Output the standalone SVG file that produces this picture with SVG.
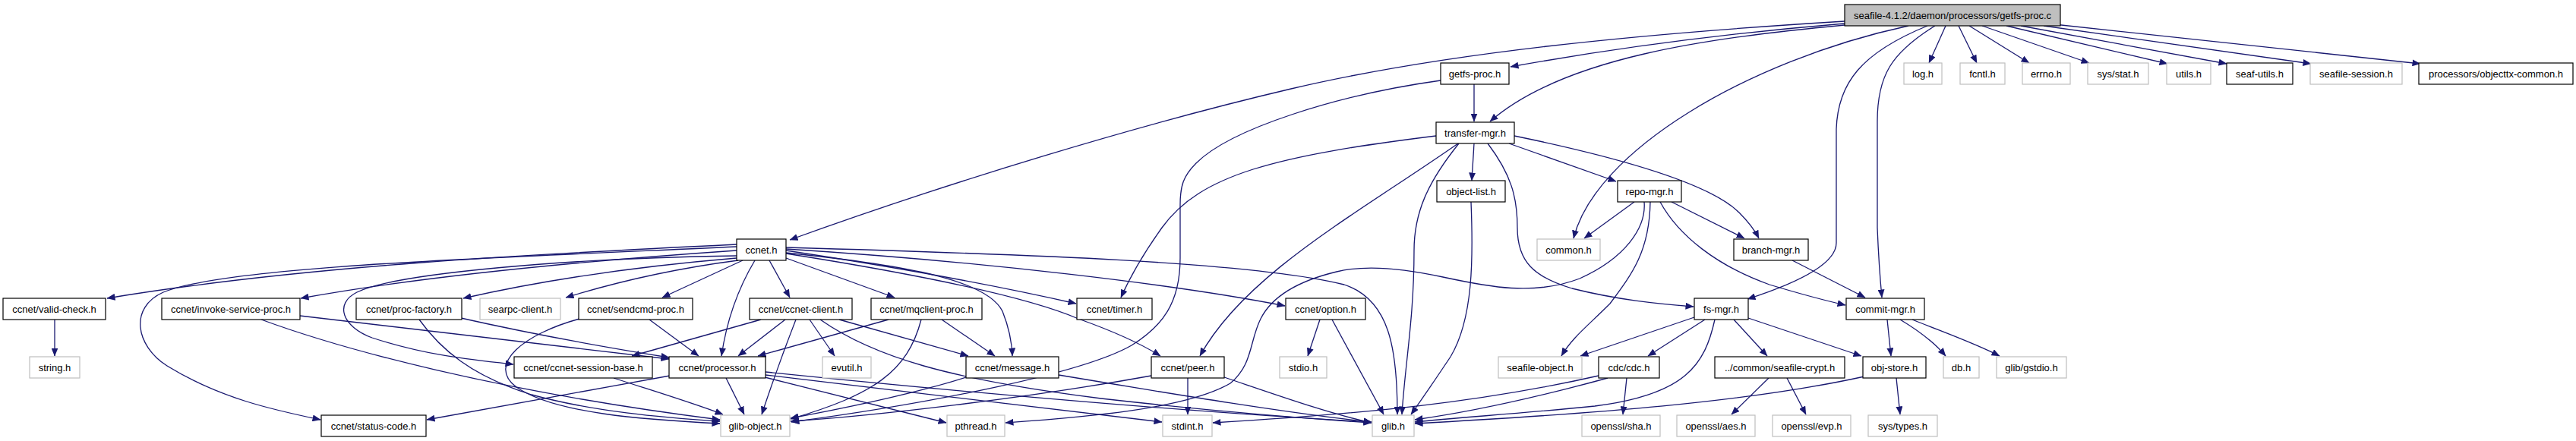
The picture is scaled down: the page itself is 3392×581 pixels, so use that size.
<svg xmlns="http://www.w3.org/2000/svg" width="3392" height="581" viewBox="0 0 3392 581">
<style>
.n rect{fill:#fff;stroke:#000;stroke-width:1.2}
.n.g rect{stroke:#bfbfbf}
.n.m rect{fill:#bfbfbf}
.n text{font-family:"Liberation Sans",Arial,sans-serif;font-size:13px;text-anchor:middle;fill:#000}
#edges path{fill:none;stroke:#191970;stroke-width:1.3;marker-end:url(#a)}
</style>
<defs>
<marker id="a" markerUnits="userSpaceOnUse" markerWidth="11" markerHeight="9" viewBox="0 0 11 9" refX="10.5" refY="4.5" orient="auto"><path d="M0,0 L11,4.5 L0,9 z" fill="#191970"/></marker>
</defs>
<rect width="3392" height="581" fill="#fff"/>
<g id="edges">
<path d="M2429,28 C2150,45 1900,70 1700,117 C1500,164 1250,240 1040,316"/>
<path d="M2429,31 Q2200,50 1989,88"/>
<path d="M2429,33 C2250,50 2060,75 1962,160"/>
<path d="M2513,34 C2300,80 2100,200 2072,314"/>
<path d="M2538,34 C2450,70 2420,110 2418,170 L2418,320 C2418,350 2360,375 2301,394"/>
<path d="M2548,34 C2490,70 2472,100 2472,160 L2472,300 Q2474,350 2478,392"/>
<path d="M2562,34 L2540,83"/>
<path d="M2579,34 L2603,83"/>
<path d="M2593,34 L2672,83"/>
<path d="M2610,34 L2751,83"/>
<path d="M2642,34 L2854,84"/>
<path d="M2661,34 L2932,84"/>
<path d="M2691,34 L3043,84"/>
<path d="M2705,32 L3187,84"/>
<path d="M1941,111 L1941,160"/>
<path d="M1897,106 C1760,125 1620,170 1575,215 C1558,232 1554,245 1554,270 L1554,340 C1554,400 1530,430 1490,455 C1420,495 1200,535 1042,556"/>
<path d="M1891,179 C1680,205 1580,230 1530,300 C1505,335 1488,365 1476,392"/>
<path d="M1920,189 C1790,280 1640,360 1580,469"/>
<path d="M1921,189 C1880,240 1862,280 1862,330 C1862,420 1850,480 1846,546"/>
<path d="M1941,189 L1938,238"/>
<path d="M1959,189 C1990,230 1998,260 1998,300 C1998,345 2020,365 2070,380 C2130,395 2180,400 2230,404"/>
<path d="M1987,189 L2128,239"/>
<path d="M1994,179 C2120,205 2250,240 2290,280 Q2308,298 2316,314"/>
<path d="M2152,266 L2086,314"/>
<path d="M2165,266 C2168,300 2140,340 2080,367 C2020,390 1960,378 1900,365 C1850,354 1800,348 1760,358 C1710,370 1675,390 1660,420 C1645,450 1650,480 1620,505 C1560,540 1420,550 1324,557"/>
<path d="M2173,266 C2172,330 2150,360 2120,400 C2090,430 2070,445 2056,469"/>
<path d="M2186,266 C2210,310 2260,350 2330,375 Q2390,393 2430,402"/>
<path d="M2201,266 L2297,314"/>
<path d="M2360,343 L2456,392"/>
<path d="M2231,418 L2081,469"/>
<path d="M2245,421 L2170,469"/>
<path d="M2258,421 C2245,480 2220,520 2100,535 C2000,545 1920,550 1863,556"/>
<path d="M2283,421 L2327,469"/>
<path d="M2302,419 L2451,469"/>
<path d="M2485,421 L2490,469"/>
<path d="M2502,421 Q2542,445 2562,469"/>
<path d="M2518,421 C2560,438 2600,452 2633,469"/>
<path d="M2117,498 C2000,530 1920,545 1863,553"/>
<path d="M2105,495 C1950,530 1800,545 1597,557"/>
<path d="M2142,498 L2137,546"/>
<path d="M2329,498 L2280,546"/>
<path d="M2353,498 L2378,546"/>
<path d="M2497,498 L2502,546"/>
<path d="M2455,496 C2300,530 2100,545 1863,558"/>
<path d="M1738,421 L1722,469"/>
<path d="M1754,421 L1822,546"/>
<path d="M1937,266 C1940,340 1940,420 1910,470 Q1880,515 1858,546"/>
<path d="M970,322 C700,335 400,350 141,393"/>
<path d="M970,325 C650,340 300,350 215,385 C170,405 178,455 220,482 C290,525 360,540 422,553"/>
<path d="M970,330 C750,345 550,365 396,393"/>
<path d="M970,337 C750,340 520,360 470,385 C440,400 450,430 490,445 C560,468 620,474 676,480"/>
<path d="M970,340 C850,350 720,368 610,393"/>
<path d="M972,343 C880,355 810,372 745,392"/>
<path d="M978,343 L872,392"/>
<path d="M994,343 Q960,400 950,469"/>
<path d="M1013,343 L1040,392"/>
<path d="M1035,340 L1178,392"/>
<path d="M1035,333 C1200,350 1300,370 1320,410 Q1332,440 1333,469"/>
<path d="M1035,330 C1200,355 1320,378 1417,400"/>
<path d="M1035,334 C1200,360 1350,390 1420,420 Q1490,445 1528,469"/>
<path d="M1035,328 C1300,345 1550,375 1692,403"/>
<path d="M1035,326 C1350,335 1650,345 1770,375 C1830,395 1840,460 1840,546"/>
<path d="M1002,421 L832,469"/>
<path d="M1034,421 L972,469"/>
<path d="M1048,421 Q1025,480 1003,546"/>
<path d="M1066,421 L1099,469"/>
<path d="M1105,421 L1275,469"/>
<path d="M1080,421 C1150,470 1250,500 1450,525 C1600,542 1700,550 1806,557"/>
<path d="M1170,421 L998,469"/>
<path d="M1240,421 L1310,469"/>
<path d="M1213,421 C1195,490 1150,520 1041,552"/>
<path d="M855,421 L920,469"/>
<path d="M763,420 C690,440 640,480 680,510 C730,545 850,553 948,558"/>
<path d="M395,416 C600,440 780,460 881,473"/>
<path d="M344,421 C450,460 650,515 948,553"/>
<path d="M607,419 C700,440 800,458 881,471"/>
<path d="M552,421 C580,460 620,495 700,520 C780,542 870,550 948,555"/>
<path d="M808,498 C860,515 910,530 952,546"/>
<path d="M882,495 L562,553"/>
<path d="M956,498 L980,546"/>
<path d="M1007,497 L1246,557"/>
<path d="M1008,494 L1530,556"/>
<path d="M1008,490 C1300,520 1600,545 1806,556"/>
<path d="M1272,497 C1200,520 1100,540 1041,551"/>
<path d="M1394,494 C1550,520 1700,545 1806,556"/>
<path d="M1516,495 C1350,525 1150,548 1041,555"/>
<path d="M1564,498 L1564,546"/>
<path d="M1612,497 C1680,520 1750,545 1806,557"/>
<path d="M72,421 L72,469"/>
</g>
<g id="n-main" class="n m"><rect x="2429" y="6" width="284" height="28"/><text x="2571" y="25">seafile-4.1.2/daemon/processors/getfs-proc.c</text></g>
<g id="n-getfs-proc" class="n"><rect x="1897" y="83" width="90" height="28"/><text x="1942" y="102">getfs-proc.h</text></g>
<g id="n-log" class="n g"><rect x="2507" y="83" width="50" height="28"/><text x="2532" y="102">log.h</text></g>
<g id="n-fcntl" class="n g"><rect x="2581" y="83" width="59" height="28"/><text x="2610.5" y="102">fcntl.h</text></g>
<g id="n-errno" class="n g"><rect x="2663" y="83" width="63" height="28"/><text x="2694.5" y="102">errno.h</text></g>
<g id="n-sys-stat" class="n g"><rect x="2749" y="83" width="80" height="28"/><text x="2789" y="102">sys/stat.h</text></g>
<g id="n-utils" class="n g"><rect x="2853" y="83" width="58" height="28"/><text x="2882" y="102">utils.h</text></g>
<g id="n-seaf-utils" class="n"><rect x="2932" y="83" width="87" height="28"/><text x="2975.5" y="102">seaf-utils.h</text></g>
<g id="n-seafile-session" class="n g"><rect x="3042" y="83" width="121" height="28"/><text x="3102.5" y="102">seafile-session.h</text></g>
<g id="n-objecttx-common" class="n"><rect x="3185" y="83" width="203" height="28"/><text x="3286.5" y="102">processors/objecttx-common.h</text></g>
<g id="n-transfer-mgr" class="n"><rect x="1891" y="161" width="103" height="28"/><text x="1942.5" y="180">transfer-mgr.h</text></g>
<g id="n-object-list" class="n"><rect x="1892" y="238" width="90" height="28"/><text x="1937" y="257">object-list.h</text></g>
<g id="n-repo-mgr" class="n"><rect x="2130" y="238" width="84" height="28"/><text x="2172" y="257">repo-mgr.h</text></g>
<g id="n-ccnet" class="n"><rect x="970" y="315" width="65" height="28"/><text x="1002.5" y="334">ccnet.h</text></g>
<g id="n-common" class="n g"><rect x="2024" y="315" width="83" height="28"/><text x="2065.5" y="334">common.h</text></g>
<g id="n-branch-mgr" class="n"><rect x="2283" y="315" width="98" height="28"/><text x="2332" y="334">branch-mgr.h</text></g>
<g id="n-valid-check" class="n"><rect x="4" y="393" width="135" height="28"/><text x="71.5" y="412">ccnet/valid-check.h</text></g>
<g id="n-invoke-service-proc" class="n"><rect x="213" y="393" width="182" height="28"/><text x="304" y="412">ccnet/invoke-service-proc.h</text></g>
<g id="n-proc-factory" class="n"><rect x="469" y="393" width="139" height="28"/><text x="538.5" y="412">ccnet/proc-factory.h</text></g>
<g id="n-searpc-client" class="n g"><rect x="632" y="393" width="106" height="28"/><text x="685" y="412">searpc-client.h</text></g>
<g id="n-sendcmd-proc" class="n"><rect x="762" y="393" width="150" height="28"/><text x="837" y="412">ccnet/sendcmd-proc.h</text></g>
<g id="n-ccnet-client" class="n"><rect x="987" y="393" width="135" height="28"/><text x="1054.5" y="412">ccnet/ccnet-client.h</text></g>
<g id="n-mqclient-proc" class="n"><rect x="1147" y="393" width="146" height="28"/><text x="1220" y="412">ccnet/mqclient-proc.h</text></g>
<g id="n-timer" class="n"><rect x="1418" y="393" width="99" height="28"/><text x="1467.5" y="412">ccnet/timer.h</text></g>
<g id="n-option" class="n"><rect x="1693" y="393" width="105" height="28"/><text x="1745.5" y="412">ccnet/option.h</text></g>
<g id="n-fs-mgr" class="n"><rect x="2231" y="393" width="71" height="28"/><text x="2266.5" y="412">fs-mgr.h</text></g>
<g id="n-commit-mgr" class="n"><rect x="2431" y="393" width="103" height="28"/><text x="2482.5" y="412">commit-mgr.h</text></g>
<g id="n-string" class="n g"><rect x="39" y="470" width="66" height="28"/><text x="72" y="489">string.h</text></g>
<g id="n-ccnet-session-base" class="n"><rect x="677" y="470" width="182" height="28"/><text x="768" y="489">ccnet/ccnet-session-base.h</text></g>
<g id="n-processor" class="n"><rect x="881" y="470" width="127" height="28"/><text x="944.5" y="489">ccnet/processor.h</text></g>
<g id="n-evutil" class="n g"><rect x="1083" y="470" width="64" height="28"/><text x="1115" y="489">evutil.h</text></g>
<g id="n-message" class="n"><rect x="1272" y="470" width="122" height="28"/><text x="1333" y="489">ccnet/message.h</text></g>
<g id="n-peer" class="n"><rect x="1516" y="470" width="96" height="28"/><text x="1564" y="489">ccnet/peer.h</text></g>
<g id="n-stdio" class="n g"><rect x="1685" y="470" width="62" height="28"/><text x="1716" y="489">stdio.h</text></g>
<g id="n-seafile-object" class="n g"><rect x="1973" y="470" width="110" height="28"/><text x="2028" y="489">seafile-object.h</text></g>
<g id="n-cdc" class="n"><rect x="2105" y="470" width="80" height="28"/><text x="2145" y="489">cdc/cdc.h</text></g>
<g id="n-seafile-crypt" class="n"><rect x="2258" y="470" width="171" height="28"/><text x="2343.5" y="489">../common/seafile-crypt.h</text></g>
<g id="n-obj-store" class="n"><rect x="2453" y="470" width="83" height="28"/><text x="2494.5" y="489">obj-store.h</text></g>
<g id="n-db" class="n g"><rect x="2559" y="470" width="47" height="28"/><text x="2582.5" y="489">db.h</text></g>
<g id="n-gstdio" class="n g"><rect x="2629" y="470" width="92" height="28"/><text x="2675" y="489">glib/gstdio.h</text></g>
<g id="n-status-code" class="n"><rect x="423" y="547" width="138" height="28"/><text x="492" y="566">ccnet/status-code.h</text></g>
<g id="n-glib-object" class="n g"><rect x="949" y="547" width="91" height="28"/><text x="994.5" y="566">glib-object.h</text></g>
<g id="n-pthread" class="n g"><rect x="1247" y="547" width="76" height="28"/><text x="1285" y="566">pthread.h</text></g>
<g id="n-stdint" class="n g"><rect x="1531" y="547" width="65" height="28"/><text x="1563.5" y="566">stdint.h</text></g>
<g id="n-glib" class="n g"><rect x="1807" y="547" width="55" height="28"/><text x="1834.5" y="566">glib.h</text></g>
<g id="n-sha" class="n g"><rect x="2083" y="547" width="103" height="28"/><text x="2134.5" y="566">openssl/sha.h</text></g>
<g id="n-aes" class="n g"><rect x="2208" y="547" width="103" height="28"/><text x="2259.5" y="566">openssl/aes.h</text></g>
<g id="n-evp" class="n g"><rect x="2334" y="547" width="103" height="28"/><text x="2385.5" y="566">openssl/evp.h</text></g>
<g id="n-sys-types" class="n g"><rect x="2460" y="547" width="91" height="28"/><text x="2505.5" y="566">sys/types.h</text></g>
</svg>
